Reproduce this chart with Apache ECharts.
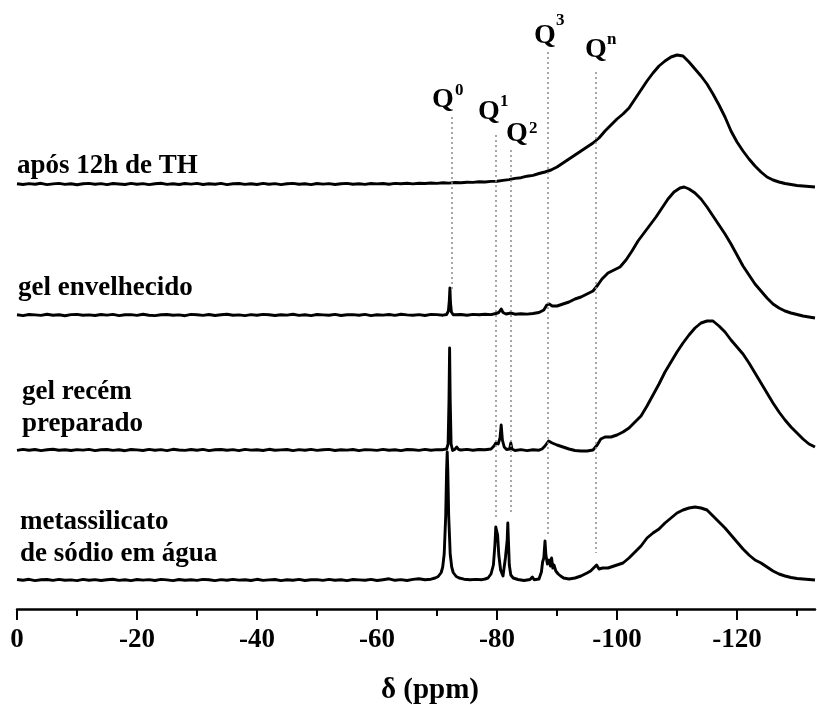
<!DOCTYPE html>
<html><head><meta charset="utf-8">
<script src="https://cdn.jsdelivr.net/npm/echarts@6/dist/echarts.min.js"></script>
<style>html,body{margin:0;padding:0;background:#fff}#c{width:817px;height:705px}</style>
</head><body><div id="c"></div>
<script>
// ---- axis ticks ----
const ppmTicks = [0, 20, 40, 60, 80, 100, 120];
const ppmMinorTicks = [10, 30, 50, 70, 90, 110, 130];
const tickLabels = ['0', '-20', '-40', '-60', '-80', '-100', '-120'];
const axisTitle = 'δ (ppm)';

// ---- traces (ppm shown as positive distance along axis; intensity above own baseline) ----
const traceNames = ['após 12h de TH', 'gel envelhecido', 'gel recém\npreparado', 'metassilicato\nde sódio em água'];
const traceOffsets = [425, 294, 159, 29];

const apos12h = [
[0,0.3],[1,-0.5],[2,0.4],[3,-0.2],[4,0.7],[5,-0.6],[6,0.1],[7,0.6],[8,-0.4],[9,0.3],
[10,-0.7],[11,0.2],[12,0.6],[13,-0.3],[14,0.4],[15,-0.6],[16,0.5],[17,0],[18,-0.5],[19,0.6],
[20,-0.2],[21,0.4],[22,-0.6],[23,0.3],[24,0.7],[25,-0.4],[26,0.2],[27,-0.5],[28,0.5],[29,-0.1],
[30,0.6],[31,-0.5],[32,0.3],[33,-0.3],[34,0.6],[35,-0.6],[36,0.2],[37,0.5],[38,-0.4],[39,0.3],
[40,-0.5],[41,0.6],[42,-0.2],[43,0.4],[44,-0.6],[45,0.3],[46,0.6],[47,-0.3],[48,0.2],[49,-0.6],
[50,0.5],[51,-0.1],[52,0.4],[53,-0.5],[54,0.3],[55,0.6],[56,-0.3],[57,0.2],[58,-0.4],[59,0.5],
[60,0.1],[61,0.5],[62,-0.2],[63,0.6],[64,0.2],[65,0.7],[66,0.1],[67,0.8],[68,0.5],[69,1.0],
[70,0.6],[71,1.2],[72,0.9],[73,1.5],[74,1.2],[75,1.8],[76,1.6],[77,2.2],[78,2.0],[79,2.6],
[80,2.8],[81,3.6],[82,4.4],[83,5.6],[84,6.3],[85,7.8],[86,8.6],[87,10.5],[88,12],[89,14],
[90,17],[91,21],[92,25],[93,29],[94,33],[95,37],[96,41],[97,46],[98,53],[99,59],
[100,65],[101,70],[102,76],[103,85],[104,94],[105,103],[106,111],[107,118],[108,123],[109,127],
[110,129],[111,128],[112,122],[113,115],[114,108],[115,100],[116,90],[117,79],[118,67],[119,53],
[120,42],[121,33],[122,25],[123,18],[124,12],[125,7],[126,4],[127,2],[128,0.5],[129,-0.5],
[130,-1.5],[131,-2],[132,-2.5],[133,-3]
];

const gelEnvelhecido = [
[0,0.2],[1,-0.6],[2,0.5],[3,0.1],[4,-0.4],[5,0.7],[6,-0.2],[7,0.3],[8,-0.7],[9,0.4],
[10,0.6],[11,-0.3],[12,0.1],[13,-0.5],[14,0.5],[15,-0.1],[16,0.6],[17,-0.6],[18,0.2],[19,0.4],
[20,-0.4],[21,0.7],[22,-0.2],[23,-0.6],[24,0.3],[25,0.5],[26,-0.3],[27,0.1],[28,-0.7],[29,0.6],
[30,0.2],[31,-0.4],[32,0.5],[33,-0.5],[34,0.3],[35,0.7],[36,-0.2],[37,0.1],[38,-0.6],[39,0.4],
[40,-0.3],[41,0.6],[42,0.2],[43,-0.5],[44,0.3],[45,-0.1],[46,0.7],[47,-0.4],[48,0.2],[49,-0.6],
[50,0.5],[51,0.1],[52,-0.3],[53,0.6],[54,-0.5],[55,0.2],[56,0.4],[57,-0.2],[58,0.6],[59,-0.6],
[60,0.3],[61,-0.1],[62,0.5],[63,-0.4],[64,0.7],[65,0.1],[66,-0.3],[67,0.4],[68,-0.5],[69,0.6],
[70,0.4],[71,-0.2],[71.6,0.5],[71.9,4],[72.05,14],[72.15,27],[72.25,12],[72.4,3],[72.7,0.3],[73,-0.4],
[74,0.5],[75,-0.3],[76,0.6],[77,0.2],[78,0.8],[79,0.4],[79.8,1.5],[80.3,2.5],[80.7,6],[81,2.5],
[81.5,1],[82.3,2],[83,0.8],[84,1.2],[85,0.9],[86,1.5],[87,2.5],[87.8,5],[88.3,10],[88.7,11],
[89.2,9],[90,9],[91,11],[92,13],[93,16],[94,18],[95,21],[96,24],[96.8,30],[97.5,36],
[98.5,42],[99.5,45],[100.5,48],[101.5,55],[102.5,64],[103.5,74],[104.5,82],[105.5,90],[106.5,98],[107.5,107],
[108.5,116],[109.5,123],[110.5,127],[111.2,128],[112,126],[113,122],[114,116],[115,108],[116,99],[117,90],
[118,81],[119,71],[120,60],[121,49],[122,40],[123,31],[124,24],[125,17],[126,11],[127,7],
[128,4],[129,2],[130,0.5],[131,-1],[132,-2],[133,-3]
];

const gelRecem = [
[0,-0.4],[1,0.6],[2,-0.2],[3,0.5],[4,-0.6],[5,0.3],[6,0.7],[7,-0.3],[8,0.2],[9,-0.5],
[10,0.4],[11,-0.1],[12,0.6],[13,-0.6],[14,0.3],[15,0.5],[16,-0.4],[17,0.2],[18,-0.7],[19,0.5],
[20,0.1],[21,-0.5],[22,0.6],[23,-0.2],[24,0.4],[25,-0.6],[26,0.7],[27,0],[28,-0.4],[29,0.5],
[30,-0.3],[31,0.6],[32,-0.6],[33,0.2],[34,0.5],[35,-0.2],[36,0.4],[37,-0.6],[38,0.6],[39,-0.1],
[40,0.3],[41,-0.5],[42,0.7],[43,-0.3],[44,0.1],[45,0.5],[46,-0.6],[47,0.4],[48,-0.2],[49,0.6],
[50,-0.4],[51,0.2],[52,0.6],[53,-0.5],[54,0.3],[55,-0.1],[56,0.5],[57,-0.6],[58,0.4],[59,0.1],
[60,-0.4],[61,0.6],[62,-0.2],[63,0.3],[64,-0.6],[65,0.5],[66,0.2],[67,-0.4],[68,0.6],[69,-0.3],
[70,0.4],[71,0.3],[71.6,1],[71.85,6],[72.0,50],[72.1,102],[72.2,50],[72.35,6],[72.6,-0.5],[73,0.8],
[73.3,3],[73.6,0.5],[74,0],[75,0.6],[76,-0.3],[77,0.5],[78,0.2],[79,1],[79.5,4],[79.8,7],
[80.2,6],[80.5,12],[80.7,25],[80.9,10],[81.2,3],[81.6,0.5],[82.1,1],[82.3,7],[82.5,1],[83,-0.5],
[84,0.4],[85,-0.6],[86,0.3],[87,-0.2],[87.5,1],[88,4],[88.6,9],[89.2,7],[90,5],[91,3],
[92,1],[93,-0.5],[94,-1],[95,-1],[96,0],[96.7,5],[97.3,11],[98,13],[99,13],[100,15],
[101,18],[102,22],[103,28],[104,34],[105,44],[106,55],[107,66],[108,78],[109,88],[110,98],
[111,107],[112,115],[113,122],[114,127],[115,129],[116,129],[117,124],[118,118],[119,110],[120,103],
[121,96],[122,87],[123,77],[124,67],[125,57],[126,47],[127,38],[128,30],[129,23],[130,17],
[131,11],[132,6],[133,3]
];

const metassilicato = [
[0,0.5],[1,-0.3],[2,0.7],[3,-0.6],[4,0.2],[5,0.5],[6,-0.4],[7,0.6],[8,-0.2],[9,0.1],
[10,-0.6],[11,0.6],[12,-0.3],[13,0.4],[14,-0.5],[15,0.2],[16,0.7],[17,-0.4],[18,0.3],[19,-0.6],
[20,0.5],[21,-0.1],[22,0.4],[23,-0.5],[24,0.6],[25,0.1],[26,-0.6],[27,0.5],[28,-0.2],[29,0.3],
[30,-0.4],[31,0.6],[32,0.2],[33,-0.6],[34,0.4],[35,-0.3],[36,0.6],[37,-0.1],[38,0.3],[39,-0.5],
[40,0.7],[41,-0.4],[42,0.1],[43,0.5],[44,-0.6],[45,0.3],[46,-0.2],[47,0.6],[48,-0.5],[49,0.2],
[50,0.4],[51,-0.4],[52,0.6],[53,-0.2],[54,0.2],[55,-0.6],[56,0.5],[57,0.1],[58,-0.3],[59,0.6],
[60,-0.5],[61,0.3],[62,1.2],[63,-0.3],[64,0.4],[65,-0.5],[66,0.6],[67,1.3],[68,0.2],[69,0.8],
[69.7,2],[70.2,3.5],[70.7,7.5],[70.95,13],[71.2,26],[71.45,64],[71.6,110],[71.7,128],[71.8,110],[71.95,64],
[72.2,26],[72.45,13],[72.7,7.5],[73.2,3.5],[73.7,2],[74.5,0.8],[75.5,0.2],[76.5,0.6],[77.5,0.3],[78,1],
[78.5,2],[79,6],[79.4,15],[79.65,35],[79.8,53],[79.95,55],[80.1,45],[80.3,25],[80.6,10],[81,4],
[81.2,4],[81.4,22],[81.55,20],[81.7,40],[81.8,57],[81.9,40],[82.05,15],[82.3,5],[82.7,2],[83.5,0.5],
[84.5,-0.5],[85.5,0.5],[85.9,3],[86.2,0.3],[87,1],[87.4,8],[87.6,18],[87.8,22],[88.0,39],[88.15,25],
[88.4,16],[88.7,20],[88.9,14],[89.1,22],[89.3,12],[89.5,15],[89.8,9],[90.2,6],[90.6,4],[91.1,2],
[92,1],[93,2],[94,4],[95,7],[95.6,9],[96.1,12],[96.6,15],[97,11],[97.6,12],[98.5,12],
[99,13],[100,15],[101,17],[102,22],[103,28],[104,34],[105,42],[106,47],[107,51],[108,57],
[109,62],[110,67],[111,70],[112,72],[113,73],[114,72],[115,70],[116,64],[117,58],[118,52],
[119,45],[120,38],[121,31],[122,25],[123,20],[124,17],[125,13],[126,9],[127,6],[128,4],
[129,2.5],[130,1.5],[131,1],[132,0.5],[133,0]
];

const traces = [apos12h, gelEnvelhecido, gelRecem, metassilicato];

// ---- Q-site reference lines ----
const qSites = ['0', '1', '2', '3', 'n'];
const qPpm = [72.4, 79.8, 82.3, 88.4, 96.4];
const qLineTop = [492, 474, 459, 557, 537];
const qLineBottom = [319, 89, 97, 72, 56];

// ---- layout (pixels) ----
const FONT = '"Liberation Serif", "Times New Roman", serif';
const labelPos = [[17, 166], [18, 288], [22, 392, 424], [20, 522, 554]];
const qLabelPos = [[432, 100, 455, 91], [478, 112, 500, 102], [506, 134, 529, 129], [534, 36, 556, 21], [585, 50, 607, 40]];

const chart = echarts.init(document.getElementById('c'), null, {renderer: 'canvas'});

const series = traces.map((t, i) => ({
  type: 'line',
  name: traceNames[i],
  xAxisIndex: 0,
  yAxisIndex: 0,
  showSymbol: false,
  symbol: 'none',
  silent: true,
  animation: false,
  lineStyle: {color: '#000', width: 2.9, join: 'round'},
  data: t.map(p => [p[0], traceOffsets[i] + p[1]])
}));

series[3].markLine = {
  silent: true,
  symbol: ['none', 'none'],
  animation: false,
  label: {show: false},
  lineStyle: {color: '#8a8a8a', width: 1.5, type: [2, 3]},
  data: qPpm.map((x, i) => [{coord: [x, qLineTop[i]]}, {coord: [x, qLineBottom[i]]}])
};

const graphic = [];
traceNames.forEach((name, i) => {
  const lines = name.split('\n');
  const p = labelPos[i];
  lines.forEach((ln, j) => {
    graphic.push({type: 'text', x: p[0], y: p[1 + j], silent: true,
      style: {text: ln, font: 'bold 27px ' + FONT, fill: '#000', textAlign: 'left', textVerticalAlign: 'middle'}});
  });
});
qSites.forEach((s, i) => {
  const p = qLabelPos[i];
  graphic.push({type: 'text', x: p[0], y: p[1], silent: true,
    style: {text: 'Q', font: 'bold 28px ' + FONT, fill: '#000', textAlign: 'left', textVerticalAlign: 'middle'}});
  graphic.push({type: 'text', x: p[2], y: p[3], silent: true,
    style: {text: s, font: 'bold 17px ' + FONT, fill: '#000', textAlign: 'left', textVerticalAlign: 'middle'}});
});
graphic.push({type: 'text', x: 430, y: 691, silent: true,
  style: {text: axisTitle, font: 'bold 29px ' + FONT, fill: '#000', textAlign: 'center', textVerticalAlign: 'middle'}});

chart.setOption({
  animation: false,
  backgroundColor: '#fff',
  grid: {left: 17, right: 2, top: 0, bottom: 96, containLabel: false, outerBoundsMode: 'none'},
  xAxis: [{
    type: 'value', min: 0, max: 133, position: 'bottom',
    axisLine: {show: true, onZero: false, lineStyle: {color: '#000', width: 2.5}},
    axisTick: {show: true, customValues: ppmTicks, length: 11, lineStyle: {color: '#000', width: 2}},
    axisLabel: {show: true, customValues: ppmTicks, margin: 18, color: '#000',
      fontFamily: FONT, fontWeight: 'bold', fontSize: 27,
      formatter: v => tickLabels[ppmTicks.indexOf(v)]},
    splitLine: {show: false}, minorTick: {show: false}
  }, {
    type: 'value', min: 0, max: 133, position: 'bottom', offset: 0,
    axisLine: {show: false},
    axisTick: {show: true, customValues: ppmMinorTicks, length: 7, lineStyle: {color: '#000', width: 2}},
    axisLabel: {show: false},
    splitLine: {show: false}
  }],
  yAxis: {type: 'value', min: 0, max: 609, show: false, splitLine: {show: false}},
  series: series,
  graphic: graphic
});
</script></body></html>
